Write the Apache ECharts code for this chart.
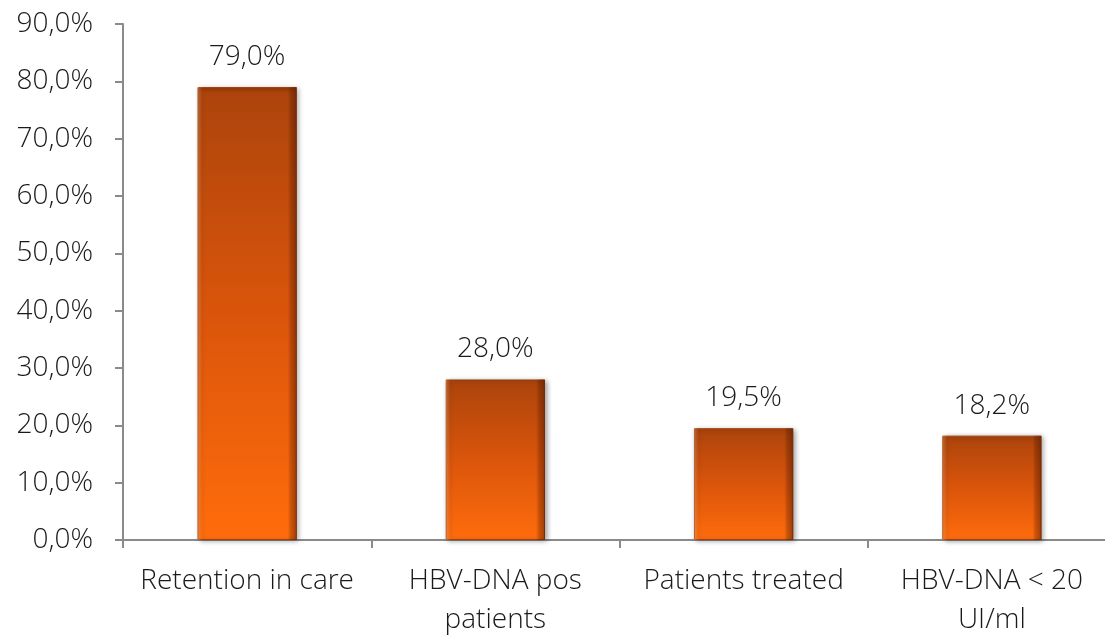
<!DOCTYPE html>
<html>
<head>
<meta charset="utf-8">
<script src="https://cdn.jsdelivr.net/npm/echarts@6/dist/echarts.min.js"></script>
<style>
  html, body { margin: 0; padding: 0; background: #ffffff; }
  #chart { width: 1105px; height: 635px; }
</style>
</head>
<body>
<div id="chart"></div>
<script>
// Cascade of care values (percent)
const categories = ['Retention in care', 'HBV-DNA pos\npatients', 'Patients treated', 'HBV-DNA < 20\nUI/ml'];
const values = [79.0, 28.0, 19.5, 18.2];
const yMin = 0, yMax = 90, yStep = 10;

const fmt = v => v.toFixed(1).replace('.', ',') + '%';
const FONT = 'Open Sans';
const TEXT = { color: '#1a1a1a', fontFamily: FONT, fontWeight: 300, fontSize: 28 };

const chart = echarts.init(document.getElementById('chart'));
chart.setOption({
  animation: false,
  grid: { left: 123, top: 24, width: 993, height: 516, containLabel: false, outerBoundsMode: 'none' },
  xAxis: {
    type: 'category',
    data: categories,
    axisLine: { lineStyle: { color: '#8a8a8a', width: 2 } },
    axisTick: { show: true, length: 8, lineStyle: { color: '#8a8a8a', width: 2 } },
    axisLabel: Object.assign({}, TEXT, { margin: 22, lineHeight: 39, interval: 0 })
  },
  yAxis: {
    type: 'value',
    min: yMin, max: yMax, interval: yStep,
    splitLine: { show: false },
    axisLine: { show: true, lineStyle: { color: '#8a8a8a', width: 2 } },
    axisTick: { show: true, length: 8, lineStyle: { color: '#8a8a8a', width: 2 } },
    axisLabel: Object.assign({}, TEXT, { margin: 30, formatter: v => fmt(v) })
  },
  series: [{
    // main bar body: dark rust at the top fading to bright orange
    type: 'bar',
    data: values,
    barWidth: '40%',
    z: 2,
    itemStyle: {
      color: {
        type: 'linear', x: 0, y: 0, x2: 0, y2: 1,
        colorStops: [
          { offset: 0, color: '#9b3a06' },
          { offset: 0.012, color: '#ad440c' },
          { offset: 0.5, color: '#da550b' },
          { offset: 1, color: '#ff6c0c' }
        ]
      },
      borderColor: '#a0420f',
      borderWidth: 1,
      shadowColor: 'rgba(0,0,0,0.35)',
      shadowBlur: 5,
      shadowOffsetX: 2,
      shadowOffsetY: 1
    },
    label: Object.assign({}, TEXT, {
      show: true, position: 'top', distance: 16,
      formatter: p => fmt(p.value)
    })
  }, {
    // bevel overlay: light left edge, darker right edge
    type: 'bar',
    data: values,
    barWidth: '40%',
    barGap: '-100%',
    z: 3,
    silent: true,
    itemStyle: {
      color: {
        type: 'linear', x: 0, y: 0, x2: 1, y2: 0,
        colorStops: [
          { offset: 0, color: 'rgba(255,220,180,0.25)' },
          { offset: 0.05, color: 'rgba(255,220,180,0.0)' },
          { offset: 0.91, color: 'rgba(60,15,0,0.0)' },
          { offset: 0.94, color: 'rgba(60,15,0,0.25)' },
          { offset: 1, color: 'rgba(60,15,0,0.45)' }
        ]
      }
    }
  }]
});
</script>
</body>
</html>
